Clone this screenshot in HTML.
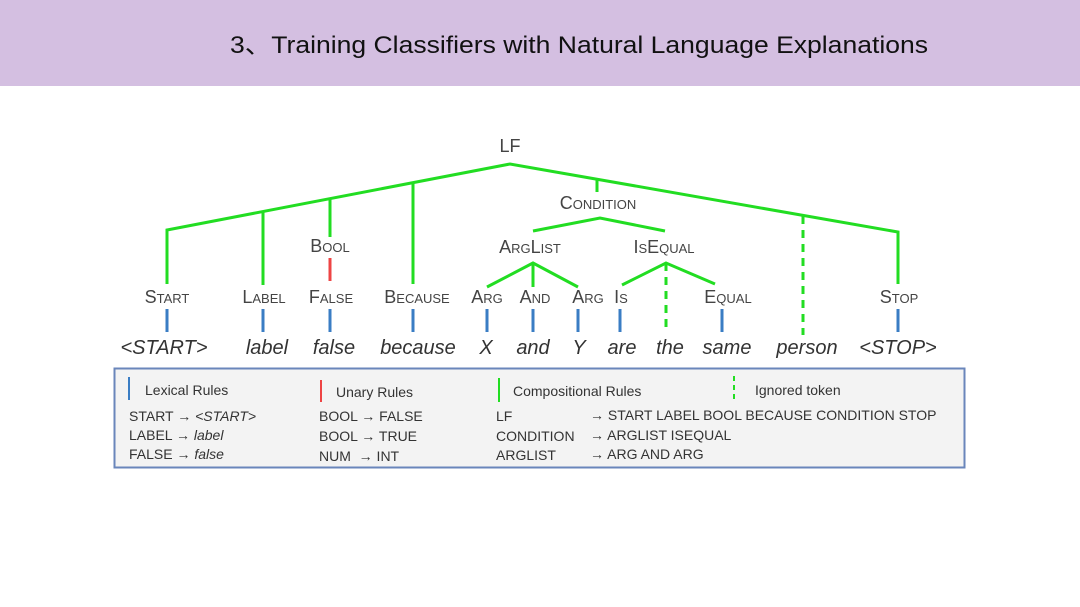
<!DOCTYPE html>
<html><head><meta charset="utf-8"><style>
html,body{margin:0;padding:0;background:#fff;}
svg{display:block;}
.sc{font-family:"Liberation Sans",sans-serif;font-variant:small-caps;fill:#444;font-size:18px;}
.w{font-family:"Liberation Sans",sans-serif;font-style:italic;fill:#333;font-size:20px;}
.lg{font-family:"Liberation Sans",sans-serif;fill:#333;font-size:14px;}
</style></head><body>
<svg width="1080" height="607" viewBox="0 0 1080 607" xmlns="http://www.w3.org/2000/svg">
<rect x="0" y="0" width="1080" height="86" fill="#d4bfe1"/>
<text x="230" y="53" font-family="'Liberation Sans','Noto Sans CJK SC',sans-serif" font-size="24" fill="#111" textLength="698" lengthAdjust="spacingAndGlyphs">3、Training Classifiers with Natural Language Explanations</text>

<g stroke="#22dd22" stroke-width="3" fill="none">
<polyline points="167,284 167,230 510,164 898,232 898,284"/>
<line x1="263" y1="212" x2="263" y2="285"/>
<line x1="330" y1="199" x2="330" y2="237"/>
<line x1="413" y1="183" x2="413" y2="284"/>
<line x1="597" y1="180" x2="597" y2="192"/>
<polyline points="533,231 600,218 665,231"/>
<polyline points="487,287 533,263 578,287"/>
<line x1="533" y1="263" x2="533" y2="287"/>
<polyline points="622,285 666,263 715,284"/>
<line x1="666" y1="263" x2="666" y2="333" stroke-dasharray="8,6"/>
<line x1="803" y1="216" x2="803" y2="335" stroke-dasharray="8,6"/>
</g>
<line x1="330" y1="258" x2="330" y2="281" stroke="#ee4444" stroke-width="3"/>
<g stroke="#3a7dc4" stroke-width="3">
<line x1="167" y1="309" x2="167" y2="332"/><line x1="263" y1="309" x2="263" y2="332"/>
<line x1="330" y1="309" x2="330" y2="332"/><line x1="413" y1="309" x2="413" y2="332"/>
<line x1="487" y1="309" x2="487" y2="332"/><line x1="533" y1="309" x2="533" y2="332"/>
<line x1="578" y1="309" x2="578" y2="332"/><line x1="620" y1="309" x2="620" y2="332"/>
<line x1="722" y1="309" x2="722" y2="332"/><line x1="898" y1="309" x2="898" y2="332"/>
</g>

<g class="sc" text-anchor="middle">
<text x="510" y="152">LF</text>
<text x="598" y="209">Condition</text>
<text x="330" y="252">Bool</text>
<text x="530" y="253">ArgList</text>
<text x="664" y="253">IsEqual</text>
<text x="167" y="303">Start</text>
<text x="264" y="303">Label</text>
<text x="331" y="303">False</text>
<text x="417" y="303">Because</text>
<text x="487" y="303">Arg</text>
<text x="535" y="303">And</text>
<text x="588" y="303">Arg</text>
<text x="621" y="303">Is</text>
<text x="728" y="303">Equal</text>
<text x="899" y="303">Stop</text>
</g>
<g class="w" text-anchor="middle">
<text x="164" y="354">&lt;START&gt;</text>
<text x="267" y="354">label</text>
<text x="334" y="354">false</text>
<text x="418" y="354">because</text>
<text x="486" y="354">X</text>
<text x="533" y="354">and</text>
<text x="579" y="354">Y</text>
<text x="622" y="354">are</text>
<text x="670" y="354">the</text>
<text x="727" y="354">same</text>
<text x="807" y="354">person</text>
<text x="898" y="354">&lt;STOP&gt;</text>
</g>

<rect x="114.5" y="368.5" width="850" height="99" fill="#f3f3f3" stroke="#6a86bb" stroke-width="2"/>
<line x1="129" y1="377" x2="129" y2="400" stroke="#3a7dc4" stroke-width="2"/>
<line x1="321" y1="380" x2="321" y2="402" stroke="#ee4444" stroke-width="2"/>
<line x1="499" y1="378" x2="499" y2="402" stroke="#22dd22" stroke-width="2"/>
<line x1="734" y1="376" x2="734" y2="399" stroke="#22dd22" stroke-width="2" stroke-dasharray="5,4"/>
<g class="lg">
<text x="145" y="395">Lexical Rules</text>
<text x="336" y="397">Unary Rules</text>
<text x="513" y="396">Compositional Rules</text>
<text x="755" y="395">Ignored token</text>
<text x="129" y="421">START → <tspan font-style="italic">&lt;START&gt;</tspan></text>
<text x="129" y="440">LABEL → <tspan font-style="italic">label</tspan></text>
<text x="129" y="459">FALSE → <tspan font-style="italic">false</tspan></text>
<text x="319" y="421">BOOL → FALSE</text>
<text x="319" y="441">BOOL → TRUE</text>
<text x="319" y="461">NUM &#160;→ INT</text>
<text x="496" y="421">LF</text>
<text x="496" y="441">CONDITION</text>
<text x="496" y="460">ARGLIST</text>
<text x="590" y="420">→ START LABEL BOOL BECAUSE CONDITION STOP</text>
<text x="590" y="440">→ ARGLIST ISEQUAL</text>
<text x="590" y="459">→ ARG AND ARG</text>
</g>
</svg>
</body></html>
